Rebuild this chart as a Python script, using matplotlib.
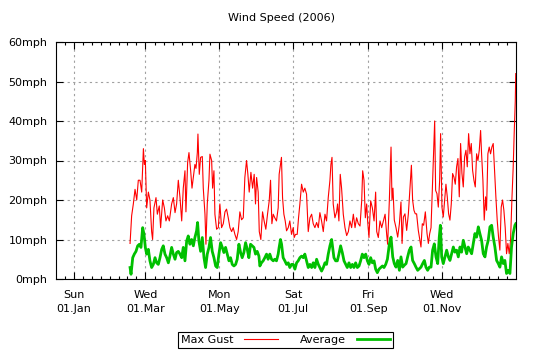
import datetime as dt

import matplotlib
matplotlib.use("Agg")
import matplotlib.pyplot as plt
import matplotlib.dates as mdates
import numpy as np

# day-of-year 2006 (0 = 01.Jan) and wind speed in mph
gust_day = [
    46.4, 47.7, 49.1, 50.5, 51.9, 53.2, 54.6, 56.0, 57.4, 58.2, 59.0, 60.1, 61.5, 62.8,
    64.2, 65.0, 66.1, 67.8, 68.9, 70.5, 71.6, 73.3, 74.7, 76.0, 77.4, 78.8, 80.7, 82.1,
    83.5, 84.8, 86.2, 87.6, 89.0, 90.3, 91.7, 92.5, 93.9, 95.0, 96.4, 97.5, 98.6, 99.9,
    100.8, 101.9, 102.4, 103.5, 104.6, 106.0, 106.8, 108.2, 109.0, 110.1, 111.5, 112.3,
    113.7, 114.5, 115.6, 116.4, 117.8, 119.2, 120.5, 121.9, 123.3, 124.7, 126.0, 127.4,
    128.8, 130.2, 131.5, 132.9, 134.3, 135.6, 137.0, 138.4, 139.8, 141.1, 142.5, 143.6,
    144.7, 146.1, 147.5, 148.8, 149.9, 150.8, 152.1, 153.0,
    154.3, 155.7, 157.0, 158.4, 159.8, 161.2, 162.3, 163.4, 164.5, 165.8, 167.2, 168.6,
    169.4, 170.5, 171.3, 172.2, 173.3, 174.4, 175.5, 176.9, 178.2, 179.6, 181.0, 181.8,
    182.9, 184.3, 185.4, 186.5, 187.9, 189.3, 190.6, 192.0, 193.4, 194.8, 196.2, 197.5,
    198.9, 200.3, 201.7, 203.0, 204.4, 205.8, 207.2, 208.5, 209.9, 211.3, 212.1, 213.0,
    214.0, 215.4, 216.8, 217.6, 218.7, 219.8, 220.9, 222.3, 223.7, 225.1, 226.5, 227.8,
    229.2, 230.6, 232.0, 233.3, 234.7, 236.1, 237.5, 238.3, 239.4, 240.5, 241.6, 242.4,
    243.5, 244.9, 246.3, 247.7, 249.0, 249.9, 251.2, 252.6, 254.0, 255.4, 256.8, 258.1,
    258.9, 260.3,
    261.7, 262.5, 263.3, 264.4, 265.8, 267.2, 268.6, 269.9, 270.8, 271.9, 273.2, 274.6,
    276.0, 277.4, 278.5, 279.5, 280.6, 281.7, 282.8, 284.2, 285.3, 286.4, 287.5, 288.6,
    290.0, 291.4, 292.5, 293.6, 294.7, 296.0, 297.1, 297.7, 298.5, 299.6, 300.7, 301.8,
    302.6, 303.7, 304.8, 305.9, 307.0, 308.1, 309.2, 310.3, 311.4, 312.5, 313.6, 314.7,
    315.8, 316.9, 318.0, 319.1, 320.2, 321.3, 322.4, 323.5, 324.6, 325.7, 326.8, 327.9,
    329.0, 330.1, 331.2, 332.3, 333.4, 334.5, 335.6, 336.4, 337.5, 338.6, 339.7, 340.5,
    341.6, 342.7, 343.8, 344.9, 346.0, 347.1, 348.2, 349.3, 350.4, 351.5, 352.6, 353.7,
    354.8, 355.9, 357.0, 358.1, 359.2, 360.3, 361.4, 362.5, 363.3, 364.2, 364.6,
]
gust_mph = [
    9, 16, 19, 22.7, 20, 25, 25, 22, 33, 29, 30, 18, 22, 20,
    12, 10, 18, 20.6, 16.4, 18.5, 13, 20, 18, 14.7, 16, 14.7, 19, 20.6,
    16.8, 19, 25, 20.6, 14.7, 23, 27.4, 17, 29.5, 32, 27.4, 23, 25.7, 29,
    28, 32, 36.7, 26.5, 30.8, 31, 23, 16.4, 8.8, 19, 25, 31.6,
    30, 23, 27.4, 16.4, 12.6, 13, 19, 13, 14, 17, 17.7, 15.5,
    13, 12, 13, 11.3, 10, 12, 17, 15, 15.5, 25.7, 30, 26.5,
    22, 27, 23, 26.5, 19, 25.7, 22, 12,
    10, 17, 14.7, 12.6, 16.4, 19.8, 25, 14, 16.4, 15.5, 14.7, 18,
    26.5, 29, 30.8, 20.6, 16.4, 14.7, 12.2, 13, 14.7, 11.3, 13, 10.5,
    11.3, 11.3, 15.5, 19, 24, 22, 23, 21.5, 12, 15.5, 16.4, 14,
    13, 14.3, 13, 16.8, 14.7, 12, 16.4, 14.7, 20.6, 25, 29, 30.8,
    19, 15.5, 17, 19, 14.7, 26.5, 23, 16.4, 13, 11, 12, 14.7,
    13, 16.4, 13, 15.5, 14, 13.4, 19.8, 27.4, 25, 15.5, 19, 14.7,
    10.5, 19.8, 18, 14.7, 22, 12, 10.5, 14.7, 13, 14.7, 16.4, 11.3,
    8.8, 19.8,
    33.4, 20, 23, 14.9, 13, 10.6, 14, 19.5, 9, 15.7, 16.5, 12.3,
    16.5, 23.3, 28.8, 20, 17.4, 16.5, 16.5, 12.3, 10.2, 8.1, 14, 13.6,
    17, 11.5, 9, 11.5, 13, 24.6, 35, 40, 22.4, 21.6, 18.2, 25,
    36.8, 18.2, 15.7, 20, 24, 20.8, 16.5, 14.9, 19, 26.7, 25.8, 24,
    28.4, 30.5, 20.8, 34.3, 26.7, 23.3, 30.9, 32.6, 28.4, 36.8, 31.7, 34.3,
    27.5, 25, 23.3, 31.7, 30, 32.6, 37.6, 31.7, 25, 14.9, 20.8, 17.4,
    31.7, 33.4, 31.7, 33.4, 34.3, 27.5, 20.8, 14.9, 10.6, 7.3, 18.2, 20,
    17.4, 13, 6.4, 9, 6.4, 9.8, 20, 28.4, 36.8, 45, 52,
]

avg_day = [
    46.4, 47.2, 48.6, 49.9, 51.3, 52.7, 54.1, 55.4, 56.8, 57.9, 59.0, 60.1, 61.5, 62.8,
    64.2, 65.6, 67.0, 68.3, 69.7, 71.1, 72.5, 73.8, 75.2, 76.6, 78.0, 79.3, 80.7, 82.1,
    83.5, 84.8, 86.2, 87.6, 89.0, 90.3, 91.7, 93.1, 94.4, 95.8, 97.2, 98.6, 99.9, 101.3,
    102.1, 103.2, 104.6, 106.0, 107.4, 108.7, 110.1, 111.5, 112.8, 114.2, 115.6, 117.0,
    118.3, 119.7, 121.1, 122.5, 123.8, 125.2, 126.6, 128.0, 129.3, 130.7, 132.1, 133.5,
    134.8, 136.2, 137.6, 138.9, 140.3, 141.7, 143.1, 144.4, 145.8, 147.2, 148.6, 149.9,
    151.3, 152.7,
    153.5, 154.8, 156.2, 157.6, 159.0, 160.3, 161.7, 163.1, 164.5, 165.8, 167.2, 168.6,
    169.4, 170.5, 171.4, 172.7, 174.1, 175.5, 176.9, 178.2, 179.6, 181.0, 182.4, 183.8,
    185.1, 186.5, 187.9, 189.3, 190.6, 192.0, 193.4, 194.8, 196.2, 197.5, 198.9, 200.3,
    201.7, 203.0, 204.4, 205.8, 207.2, 208.5, 209.9, 211.3, 212.7, 213.5, 214.6, 216.0,
    217.4, 218.7, 220.1, 221.5, 222.9, 224.3, 225.6, 227.0, 228.4, 229.8, 231.1, 232.5,
    233.9, 235.3, 236.6, 238.0, 239.4, 240.8, 242.2, 243.5, 244.9, 246.3, 247.7, 249.0,
    250.4, 251.8, 253.2, 254.6, 255.9, 257.3, 258.7, 260.3,
    261.7, 263.1, 264.4, 265.8, 267.2, 268.6, 269.9, 271.3, 272.7, 274.1, 275.4, 276.8,
    278.2, 279.5, 280.9, 282.3, 283.7, 285.0, 286.4, 287.8, 289.2, 290.5, 291.9, 293.3,
    294.7, 296.0, 297.4, 298.8, 300.2, 301.5, 302.4, 303.5, 304.8, 306.2, 307.6, 309.0,
    310.3, 311.7, 313.1, 314.4, 315.8, 317.2, 318.6, 319.9, 321.3, 322.7, 324.1, 325.4,
    326.8, 328.2, 329.5, 330.9, 332.3, 333.7, 335.0, 336.4, 337.8, 339.2, 340.5, 341.9,
    343.3, 344.7, 346.0, 347.4, 348.8, 350.2, 351.5, 352.9, 354.3, 355.6, 357.0, 358.4,
    359.8, 361.1, 362.5, 363.9, 364.6,
]
avg_mph = [
    2.9, 1.2, 5.4, 6.3, 7, 8.4, 8.8, 8, 13, 11.3, 8, 6.3, 7.5, 4.6,
    2.9, 3.7, 5.4, 4.1, 3.7, 5.4, 7.5, 8.4, 6.3, 5.4, 4.1, 5.8, 8, 6.3,
    5, 6.7, 7, 6.3, 5.4, 8, 4.6, 9.6, 10.9, 8.8, 10, 8.4, 10.5, 12.2,
    14.3, 9.6, 7, 10.5, 5.4, 2.9, 6.3, 8, 10.5, 7, 5.4, 3.3,
    2.9, 6.3, 9.2, 8, 6.7, 8, 6.3, 4.6, 5.4, 3.7, 3.3, 3.7,
    5, 8.8, 6.7, 5.4, 6.7, 9.2, 7.5, 5.4, 8.8, 8.4, 8, 6.3,
    7, 5.8,
    3.3, 4.1, 4.6, 5.4, 6.3, 5, 6.3, 5, 4.6, 5, 4.6, 6.3,
    8, 10, 8.8, 5.4, 4.6, 3.7, 4.1, 2.9, 3.7, 3.7, 2.5, 4.1,
    4.6, 5.4, 5.8, 5.4, 6.3, 4.6, 2.9, 3.7, 2.9, 4.1, 2.9, 5,
    3.7, 2.9, 2, 2.9, 4.1, 3.7, 6.3, 8.4, 10, 8, 5.4, 4.6,
    4.6, 6.3, 8.4, 6.7, 4.6, 3.7, 2.9, 4.1, 2.9, 3.7, 2.9, 4.1,
    2.9, 3.3, 4.6, 6.3, 5.4, 6.3, 4.6, 3.7, 5.4, 4.1, 4.6, 2.5,
    1.6, 2.5, 2.9, 3.3, 2.9, 3.7, 5, 8.8,
    10.6, 5.6, 3.9, 3, 4.7, 2.2, 5.6, 3, 3.5, 3.9, 5.6, 7.3,
    8.1, 4.7, 3.9, 3, 2.2, 2.6, 3, 3.9, 4.7, 3, 2.2, 3,
    3, 7.3, 8.9, 5.6, 3.9, 10.6, 13.6, 5.6, 3.9, 5.6, 7.3, 5.6,
    4.7, 6.4, 8.1, 6.8, 7.3, 5.6, 8.1, 6.8, 9.8, 8.1, 6.4, 8.1,
    7.3, 6.4, 8.9, 11.5, 10.6, 13.2, 11.5, 9.8, 6.4, 5.6, 8.1, 9.8,
    13.2, 13.6, 10.6, 8.1, 4.7, 3.9, 3, 5.6, 3.9, 4.7, 1.4, 2.2,
    1.4, 8.1, 11.5, 13.6, 14,
]

y_ticks = [0, 10, 20, 30, 40, 50, 60]
major_dates = [dt.datetime(2006, m, 1) for m in (1, 3, 5, 7, 9, 11)]

plt.rcParams.update({"font.family": "DejaVu Sans", "font.size": 8})

base = mdates.date2num(dt.datetime(2006, 1, 1))
gx = base + np.array(gust_day)
ax_x = base + np.array(avg_day)

fig = plt.figure(figsize=(5.4, 3.5), dpi=100)
ax = fig.add_axes([56 / 540, 1 - 279 / 350, 460 / 540, 237 / 350])

ax.plot(gx, gust_mph, color="#ff0000", linewidth=0.8, label="Max Gust")
ax.plot(ax_x, avg_mph, color="#00c000", linewidth=2.0, label="Average")

# major ticks every two months, 8 minor steps in between (gnuplot style)
edges = [dt.datetime(2005, 11, 1)] + major_dates + [dt.datetime(2007, 1, 1)]
edge_num = mdates.date2num(edges)
minors = []
for a, b in zip(edge_num[:-1], edge_num[1:]):
    minors += list(np.linspace(a, b, 9)[1:-1])
ax.set_xticks(mdates.date2num(major_dates))
ax.set_xticklabels([d.strftime("%a\n%d.%b") for d in major_dates], linespacing=1.45)
ax.set_xticks(minors, minor=True)

ax.set_yticks(y_ticks)
ax.set_yticklabels([f"{v}mph" for v in y_ticks])

# limits last, set_xticks would otherwise widen the view
ax.set_xlim(base - 14.7, base + 364.8)
ax.set_ylim(0, 60)

ax.tick_params(which="both", direction="in", top=True, right=True, colors="black")
ax.tick_params(which="major", length=5, width=0.8)
ax.tick_params(which="minor", length=2.5, width=0.8)
ax.tick_params(axis="x", pad=8)
ax.tick_params(axis="y", pad=6)

ax.grid(True, which="major", color="#a0a0a0", linestyle=(0, (2, 3)), linewidth=0.8)
for s in ax.spines.values():
    s.set_linewidth(0.8)

fig.text(281 / 540, 1 - 18 / 350, "Wind Speed (2006)", ha="center", va="center", fontsize=8)

leg = fig.legend(loc="center", bbox_to_anchor=(285.5 / 540, 1 - 340 / 350), ncol=2,
                 markerfirst=False, fancybox=False, edgecolor="black", framealpha=1,
                 handlelength=3.0, handletextpad=1.0, columnspacing=2.0,
                 borderpad=0.25, fontsize=8)
leg.get_frame().set_linewidth(0.8)

fig.savefig("out.png", dpi=100)
